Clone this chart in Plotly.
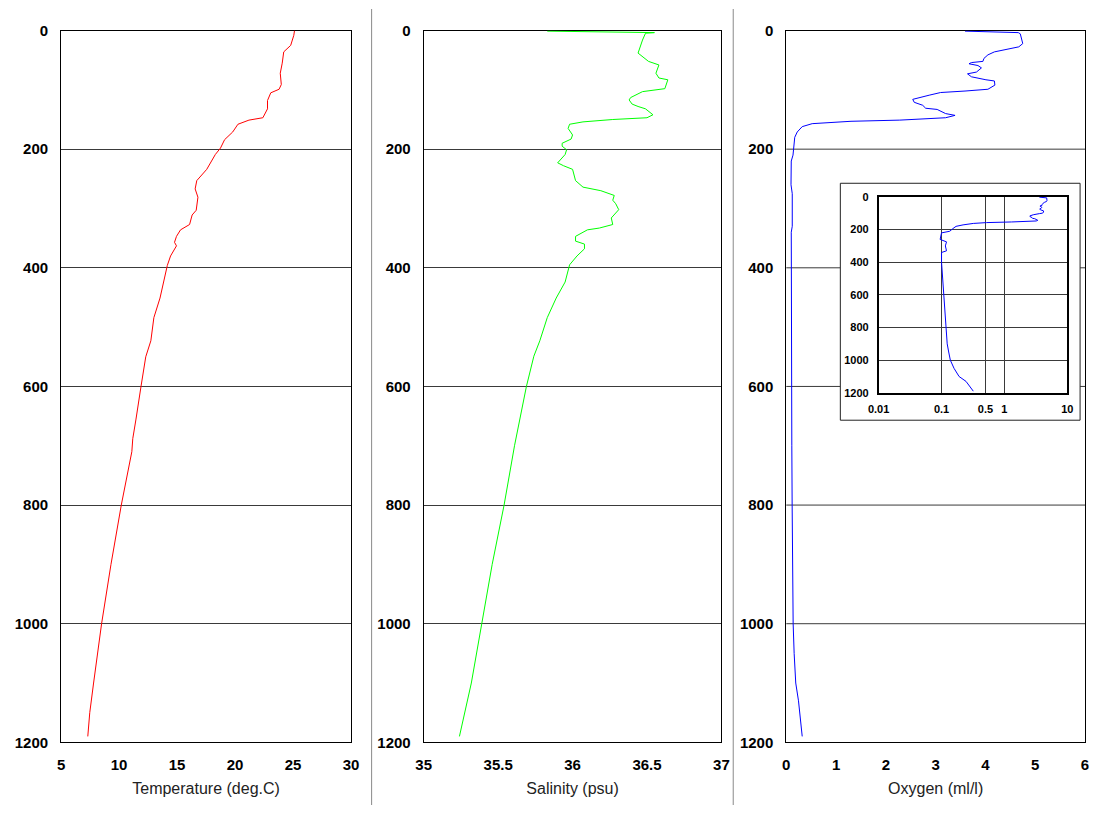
import plotly.graph_objects as go

# ---- CTD cast: depth (m) against temperature, salinity and dissolved oxygen ----
temp_depth = [0, 8, 25, 36, 55, 72, 91, 99, 105, 118, 132, 147, 151, 158, 171, 184, 198, 209,
              234, 253, 267, 281, 303, 311, 327, 336, 347, 357, 363, 380, 396, 424, 451, 484,
              523, 550, 572, 600, 655, 688, 710, 800, 900, 1000, 1100, 1150, 1190]
temperature = [25.13, 25.07, 24.8, 24.2, 24.07, 23.9, 23.99, 23.8, 23.08, 22.8, 22.8, 22.4, 21.2,
               20.25, 19.8, 19.1, 18.75, 18.3, 17.56, 16.7, 16.56, 16.8, 16.65, 16.3, 16.08, 15.3,
               14.95, 14.78, 14.95, 14.44, 14.16, 13.87, 13.53, 13.0, 12.74, 12.3, 12.1, 11.89,
               11.46, 11.18, 11.1, 10.19, 9.3, 8.49, 7.8, 7.47, 7.3]

sal_depth = [1, 3.5, 4.5, 16, 38, 52, 58, 72, 80, 83, 98, 103, 113, 117, 124, 128, 132, 142, 147,
             150, 154, 158, 165, 176, 183, 190, 195, 201, 209, 223, 228, 234, 253, 264, 270, 278,
             286, 292, 302, 316, 327, 333, 336, 347, 355, 360, 368, 380, 395, 424, 451, 484, 523,
             549, 600, 700, 800, 900, 1000, 1100, 1190]
salinity = [35.83, 36.55, 36.49, 36.47, 36.44, 36.51, 36.58, 36.56, 36.58, 36.64, 36.62, 36.47,
            36.39, 36.38, 36.40, 36.44, 36.49, 36.54, 36.50, 36.27, 36.07, 35.98, 35.97, 36.0,
            35.99, 35.93, 35.93, 35.96, 35.95, 35.90, 35.94, 36.0, 36.02, 36.07, 36.19, 36.28,
            36.27, 36.29, 36.31, 36.26, 36.27, 36.18, 36.10, 36.02, 36.02, 36.08, 36.08, 36.03,
            35.98, 35.95, 35.89, 35.83, 35.78, 35.74, 35.69, 35.61, 35.54, 35.46, 35.39, 35.32,
            35.24]

oxy_depth = [1, 3.5, 5.5, 22, 27.5, 32, 36, 41, 47, 52, 54, 56, 59, 63, 70, 73, 78, 83, 85, 92, 99,
             102, 104.5, 109, 116, 121, 126, 131, 133, 140, 143, 147, 151, 153, 157, 162, 171, 180,
             195, 210, 220, 260, 275, 300, 330, 340, 400, 500, 600, 700, 800, 900, 950, 1000,
             1050, 1100, 1130, 1150, 1190]
oxygen = [3.59, 4.66, 4.70, 4.75, 4.67, 4.37, 4.18, 4.05, 3.97, 3.95, 3.72, 3.67, 3.85, 3.92, 3.82,
          3.64, 3.72, 4.01, 4.18, 4.19, 4.05, 3.59, 3.10, 2.87, 2.54, 2.57, 2.74, 2.80, 3.03, 3.20,
          3.39, 3.20, 2.28, 1.30, 0.52, 0.32, 0.22, 0.17, 0.15, 0.135, 0.10, 0.095, 0.12, 0.115,
          0.12, 0.10, 0.10, 0.104, 0.108, 0.111, 0.118, 0.123, 0.13, 0.138, 0.158, 0.19, 0.245,
          0.27, 0.32]

depth_ticks = [0, 200, 400, 600, 800, 1000, 1200]
temp_ticks = [5, 10, 15, 20, 25, 30]
sal_ticks = [35, 35.5, 36, 36.5, 37]
sal_tick_text = ["35", "35.5", "36", "36.5", "37"]
oxy_ticks = [0, 1, 2, 3, 4, 5, 6]
log_ticks = [0.01, 0.1, 0.5, 1, 10]
log_tick_text = ["0.01", "0.1", "0.5", "1", "10"]

# ---- page geometry (pixels, in window coordinates) ----
W, H = 1109, 829
BODY = 8                      # default page body margin around the figure
FW, FH = W - 2 * BODY, H - 2 * BODY


def fx(a):
    return min(1.0, max(0.0, (a - BODY) / FW))


def fy(py):
    return min(1.0, max(0.0, 1 - (py - BODY) / FH))


def px_x(a, b):
    return [fx(a), fx(b)]


def px_y(top, bottom):
    return [fy(bottom), fy(top)]


PLOT_TOP, PLOT_BOTTOM = 30, 757
INSET_BOX = (852, 186, 1096, 428)      # left, top, right, bottom of the inset frame
P3_LEFT, P3_RIGHT = 797, W - BODY

TICK_FONT = dict(family="Liberation Sans, Arial, sans-serif", size=15, color="black")
TITLE_FONT = dict(family="Liberation Sans, Arial, sans-serif", size=16, color="#222222")
GRID = "#3a3a3a"

fig = go.Figure()

fig.add_trace(go.Scatter(x=temperature, y=temp_depth, mode="lines",
                         line=dict(color="#ff0000", width=1), xaxis="x", yaxis="y"))
fig.add_trace(go.Scatter(x=salinity, y=sal_depth, mode="lines",
                         line=dict(color="#00ff00", width=1), xaxis="x2", yaxis="y2"))
fig.add_trace(go.Scatter(x=oxygen, y=oxy_depth, mode="lines",
                         line=dict(color="#0000ff", width=1), xaxis="x3", yaxis="y3"))
fig.add_trace(go.Scatter(x=oxygen, y=oxy_depth, mode="lines",
                         line=dict(color="#0000ff", width=1), xaxis="x4", yaxis="y4"))


def depth_axis(anchor, domain, grid=True, font=TICK_FONT, standoff=9):
    return dict(anchor=anchor, domain=domain, range=[1200, 0], tickvals=depth_ticks,
                showgrid=grid, gridcolor=GRID, gridwidth=1, zeroline=False,
                showline=True, mirror=True, linecolor="black", linewidth=1,
                ticks="", ticklabelstandoff=standoff, layer="below traces",
                tickfont=dict(font, weight="bold"), fixedrange=True)


def value_axis(anchor, domain, rng, ticks, title, ticktext=None):
    ax = dict(anchor=anchor, domain=domain, range=rng, tickvals=ticks,
              showgrid=False, zeroline=False, showline=True, mirror=True,
              linecolor="black", linewidth=1, ticks="", ticklabelstandoff=9,
              layer="below traces", tickfont=dict(TICK_FONT, weight="bold"),
              title=dict(text=title, font=TITLE_FONT, standoff=10), fixedrange=True)
    if ticktext is not None:
        ax["ticktext"] = ticktext
    return ax


main_y = px_y(PLOT_TOP, PLOT_BOTTOM)

fig.update_layout(
    width=FW, height=FH, margin=dict(l=0, r=0, t=0, b=0),
    paper_bgcolor="white", plot_bgcolor="white", showlegend=False,
    xaxis=value_axis("y", px_x(59, 354), [5, 30], temp_ticks, "Temperature (deg.C)"),
    yaxis=depth_axis("x", main_y),
    xaxis2=value_axis("y2", px_x(428, 731), [35, 37], sal_ticks, "Salinity (psu)", sal_tick_text),
    yaxis2=depth_axis("x2", main_y),
    xaxis3=value_axis("y3", px_x(P3_LEFT, P3_RIGHT), [0, 6], oxy_ticks, "Oxygen (ml/l)"),
    yaxis3=depth_axis("x3", main_y, grid=False),
    xaxis4=dict(anchor="y4", domain=px_x(891, 1083), type="log", range=[-2, 1],
                tickvals=log_ticks, ticktext=log_tick_text,
                showgrid=True, gridcolor=GRID, gridwidth=1, zeroline=False,
                showline=True, mirror=True, linecolor="black", linewidth=1.5,
                ticks="", ticklabelstandoff=5,
                tickfont=dict(TICK_FONT, size=11, weight="bold"), fixedrange=True),
    yaxis4=dict(depth_axis("x4", px_y(200, 400), font=dict(TICK_FONT, size=11), standoff=6),
                linewidth=1.5, layer="above traces"),
)

shapes = []

# depth grid of the oxygen panel, interrupted where the inset sits
box_l, box_t, box_r, box_b = INSET_BOX
gap_l = (box_l - P3_LEFT) / (P3_RIGHT - P3_LEFT)
gap_r = (box_r - P3_LEFT) / (P3_RIGHT - P3_LEFT)
for d in depth_ticks[1:-1]:
    ypix = PLOT_TOP + d * (PLOT_BOTTOM - PLOT_TOP) / 1200
    segments = [(0, 1)] if not (box_t <= ypix <= box_b) else [(0, gap_l), (gap_r, 1)]
    for a, b in segments:
        shapes.append(dict(type="line", xref="x3 domain", yref="y3", x0=a, x1=b, y0=d, y1=d,
                           line=dict(color=GRID, width=1), layer="below"))

# inset frame
ix, iy = px_x(box_l, box_r), px_y(box_t, box_b)
shapes.append(dict(type="rect", xref="paper", yref="paper", x0=ix[0], x1=ix[1], y0=iy[0], y1=iy[1],
                   line=dict(color="#222222", width=1), fillcolor="white", layer="below"))

# light separators between the three panels
frame = dict(color="#8a8a8a", width=1)
for xp in (375, 743):
    shapes.append(dict(type="line", xref="paper", yref="paper", x0=fx(xp), x1=fx(xp),
                       y0=0, y1=1, line=frame))

fig.update_layout(shapes=shapes)

fig.write_html("out.html")
